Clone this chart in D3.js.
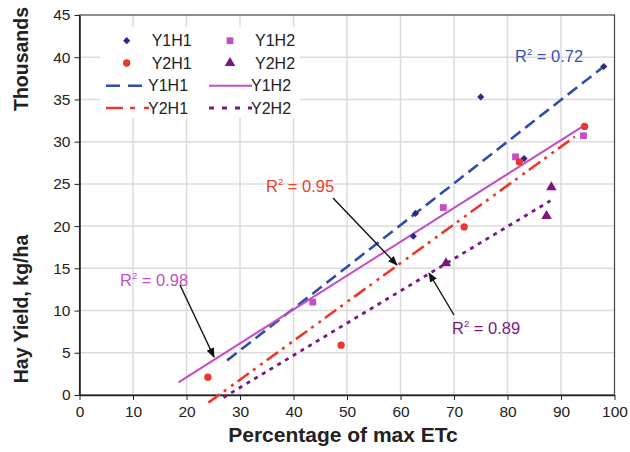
<!DOCTYPE html>
<html>
<head>
<meta charset="utf-8">
<script src="https://cdn.jsdelivr.net/npm/d3@7"></script>
<style>
  body { margin: 0; background: #fff; }
  svg text { font-family: "Liberation Sans", Arial, sans-serif; }
</style>
</head>
<body>
<svg id="chart" width="630" height="452"></svg>
<script>
// observed points
let y1h1X = [62.4, 62.8, 75.0, 83.1, 98.0]
let y1h1Y = [18.8, 21.5, 35.3, 28.0, 38.9]
let y1h2X = [43.6, 68.0, 81.5, 94.2]
let y1h2Y = [11.0, 22.2, 28.2, 30.7]
let y2h1X = [24.0, 48.9, 71.9, 82.2, 94.4]
let y2h1Y = [2.1, 5.9, 19.9, 27.6, 31.8]
let y2h2X = [68.5, 87.3, 88.2]
let y2h2Y = [15.6, 21.2, 24.6]

// trendline end points (x1, x2) and (y1, y2)
let trendY1H1 = [[27.6, 98.0], [4.1, 38.9]]
let trendY1H2 = [[18.5, 94.3], [1.5, 31.9]]
let trendY2H1 = [[24.1, 92.6], [-0.9, 30.6]]
let trendY2H2 = [[26.9, 88.0], [-0.3, 23.0]]

let xTicks = [0, 10, 20, 30, 40, 50, 60, 70, 80, 90, 100]
let yTicks = [0, 5, 10, 15, 20, 25, 30, 35, 40, 45]

let svg = d3.select('#chart')
let margin = {top: 15, right: 15.5, bottom: 57, left: 79.5}
let width = +svg.attr('width')
let height = +svg.attr('height')

let x = d3.scaleLinear().domain([0, 100]).range([margin.left, width - margin.right])
let y = d3.scaleLinear().domain([0, 45]).range([height - margin.bottom, margin.top])

// grid
svg.append('g').selectAll('line.v')
    .data(xTicks.slice(1, -1)).enter().append('line')
    .attr('x1', d => x(d)).attr('x2', d => x(d))
    .attr('y1', y(45)).attr('y2', y(0))
    .attr('stroke', '#dcdcdc').attr('stroke-width', 1.5)
svg.append('g').selectAll('line.h')
    .data(yTicks.slice(1, -1)).enter().append('line')
    .attr('x1', x(0)).attr('x2', x(100))
    .attr('y1', d => y(d)).attr('y2', d => y(d))
    .attr('stroke', '#dcdcdc').attr('stroke-width', 1.5)

// frame
svg.append('rect')
    .attr('x', x(0)).attr('y', y(45))
    .attr('width', x(100) - x(0)).attr('height', y(0) - y(45))
    .attr('fill', 'none').attr('stroke', '#444').attr('stroke-width', 1.2)

// axes
let xAxis = svg.append('g')
    .attr('transform', 'translate(0,' + y(0) + ')')
    .call(d3.axisBottom(x).tickValues(xTicks).tickSize(5).tickSizeOuter(0).tickPadding(6))
let yAxis = svg.append('g')
    .attr('transform', 'translate(' + x(0) + ',0)')
    .call(d3.axisLeft(y).tickValues(yTicks).tickSize(5).tickSizeOuter(0).tickPadding(4))
for (let ax of [xAxis, yAxis]) {
    ax.select('.domain').attr('stroke', '#222').attr('stroke-width', 1.6)
    ax.selectAll('.tick line').attr('stroke', '#222')
    ax.selectAll('.tick text').style('font-size', '15.5px').attr('fill', '#222')
}

// legend box
svg.append('rect')
    .attr('x', 100).attr('y', 27).attr('width', 200).attr('height', 91)
    .attr('fill', '#fff')

// trendlines
let trends = [
    {t: trendY1H1, color: '#2f4ea6', dash: '12,6', w: 2.6},
    {t: trendY1H2, color: '#c24fc4', dash: null, w: 2},
    {t: trendY2H1, color: '#e8392a', dash: '14,5,3,6,3,5', w: 2.6},
    {t: trendY2H2, color: '#7d1582', dash: '4,5', w: 2.8}
]
for (let tr of trends) {
    svg.append('line')
        .attr('x1', x(tr.t[0][0])).attr('x2', x(tr.t[0][1]))
        .attr('y1', y(tr.t[1][0])).attr('y2', y(tr.t[1][1]))
        .attr('stroke', tr.color).attr('stroke-width', tr.w)
        .attr('stroke-dasharray', tr.dash)
}

// markers
let series = [
    {xs: y1h1X, ys: y1h1Y, sym: d3.symbolSquare, size: 26, rot: 45, color: '#2e2a8c'},
    {xs: y1h2X, ys: y1h2Y, sym: d3.symbolSquare, size: 46, rot: 0, color: '#c24fc4'},
    {xs: y2h1X, ys: y2h1Y, sym: d3.symbolCircle, size: 42, rot: 0, color: '#e8392a'},
    {xs: y2h2X, ys: y2h2Y, sym: d3.symbolTriangle, size: 48, rot: 0, color: '#7d1582'}
]
for (let s of series) {
    svg.append('g').selectAll('path')
        .data(d3.zip(s.xs, s.ys)).enter().append('path')
        .attr('d', d3.symbol().type(s.sym).size(s.size))
        .attr('transform', d => 'translate(' + x(d[0]) + ',' + y(d[1]) + ') rotate(' + s.rot + ')')
        .attr('fill', s.color)
}

// legend contents
let leg = svg.append('g')
let legMarks = [
    {cx: 126.7, cy: 40.7, s: series[0], label: 'Y1H1'},
    {cx: 230, cy: 40.7, s: series[1], label: 'Y1H2'},
    {cx: 126.7, cy: 63, s: series[2], label: 'Y2H1'},
    {cx: 230, cy: 63, s: series[3], label: 'Y2H2'}
]
for (let m of legMarks) {
    leg.append('path')
        .attr('d', d3.symbol().type(m.s.sym).size(m.s.size))
        .attr('transform', 'translate(' + m.cx + ',' + m.cy + ') rotate(' + m.s.rot + ')')
        .attr('fill', m.s.color)
    leg.append('text').attr('x', m.cx + 25).attr('y', m.cy + 5.5)
        .style('font-size', '16px').attr('fill', '#222').text(m.label)
}
let legLines = [
    {x1: 106, y1: 85.7, tr: trends[0], dash: '14,8', label: 'Y1H1'},
    {x1: 209, y1: 85.7, tr: trends[1], dash: null, label: 'Y1H2'},
    {x1: 106, y1: 108, tr: trends[2], dash: '17,7,5,9,5,9', label: 'Y2H1'},
    {x1: 209, y1: 108, tr: trends[3], dash: '5,8', label: 'Y2H2'}
]
for (let l of legLines) {
    leg.append('line')
        .attr('x1', l.x1).attr('x2', l.x1 + 43)
        .attr('y1', l.y1).attr('y2', l.y1)
        .attr('stroke', l.tr.color).attr('stroke-width', l.tr.w)
        .attr('stroke-dasharray', l.dash)
    leg.append('text').attr('x', l.x1 + 42).attr('y', l.y1 + 5.5)
        .style('font-size', '16px').attr('fill', '#222').text(l.label)
}

// arrows
svg.append('defs').append('marker')
    .attr('id', 'arrow').attr('viewBox', '0 0 10 10')
    .attr('refX', 9).attr('refY', 5)
    .attr('markerWidth', 7).attr('markerHeight', 7)
    .attr('orient', 'auto-start-reverse')
    .append('path').attr('d', 'M0,1 L10,5 L0,9 z').attr('fill', '#111')

let arrows = [
    [333, 198, 397, 265],
    [180, 285, 214, 357],
    [454, 315, 429, 273]
]
svg.append('g').selectAll('line')
    .data(arrows).enter().append('line')
    .attr('x1', d => d[0]).attr('y1', d => d[1])
    .attr('x2', d => d[2]).attr('y2', d => d[3])
    .attr('stroke', '#111').attr('stroke-width', 1.4)
    .attr('marker-end', 'url(#arrow)')

// R² labels
let r2Labels = [
    {x: 515, y: 62, val: '0.72', color: '#3a4fb0'},
    {x: 266, y: 192, val: '0.95', color: '#e8402f'},
    {x: 120, y: 286, val: '0.98', color: '#c24fc4'},
    {x: 452, y: 334, val: '0.89', color: '#7d1a80'}
]
for (let r of r2Labels) {
    let t = svg.append('text').attr('x', r.x).attr('y', r.y)
        .style('font-size', '16.5px').attr('fill', r.color)
    t.append('tspan').text('R')
    t.append('tspan').attr('dy', -7).style('font-size', '9.5px').text('2')
    t.append('tspan').attr('dy', 7).text(' = ' + r.val)
}

// axis titles
svg.append('text')
    .attr('x', 343).attr('y', 442)
    .attr('text-anchor', 'middle')
    .style('font-size', '21px').style('font-weight', 'bold').attr('fill', '#222')
    .text('Percentage of max ETc')
svg.append('text')
    .attr('transform', 'translate(28,309) rotate(-90)')
    .attr('text-anchor', 'middle')
    .style('font-size', '19.5px').style('font-weight', 'bold').attr('fill', '#222')
    .text('Hay Yield, kg/ha')
svg.append('text')
    .attr('transform', 'translate(28,59) rotate(-90)')
    .attr('text-anchor', 'middle')
    .style('font-size', '19.5px').style('font-weight', 'bold').attr('fill', '#222')
    .text('Thousands')
</script>
</body>
</html>
